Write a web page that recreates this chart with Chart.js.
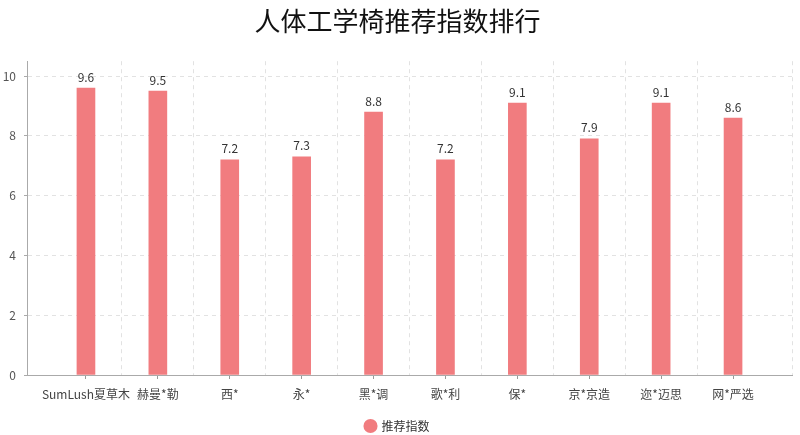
<!DOCTYPE html>
<html>
<head>
<meta charset="utf-8">
<script src="https://cdn.jsdelivr.net/npm/chart.js@4/dist/chart.umd.min.js"></script>
<style>
html,body{margin:0;padding:0;background:#fff;}
#wrap{width:800px;height:435px;position:relative;}
</style>
</head>
<body>
<div id="wrap"><canvas id="c"></canvas></div>
<script>
const titleText = '人体工学椅推荐指数排行';
const seriesName = '推荐指数';
const categories = ['SumLush夏草木','赫曼*勒','西*','永*','黑*调','歌*利','保*','京*京造','迩*迈思','网*严选'];
const values = [9.6, 9.5, 7.2, 7.3, 8.8, 7.2, 9.1, 7.9, 9.1, 8.6];
const yTicks = [0, 2, 4, 6, 8, 10];

const FONT = '"Noto Sans CJK SC", "Noto Sans", sans-serif';
const BAR = 'rgb(241,124,127)';
const X_MIN = -0.82, X_MAX = 9.82;

const labelPlugin = {
  id: 'valueLabels',
  afterDatasetsDraw(chart) {
    const ctx = chart.ctx;
    const meta = chart.getDatasetMeta(0);
    ctx.save();
    ctx.font = '12px ' + FONT;
    ctx.fillStyle = '#333';
    ctx.textAlign = 'center';
    ctx.textBaseline = 'bottom';
    meta.data.forEach((bar, i) => {
      ctx.fillText(String(values[i].toFixed(1)), bar.x, bar.y - 5);
    });
    ctx.restore();
  }
};

const isInt = v => Math.abs(v - Math.round(v)) < 1e-6;

new Chart(document.getElementById('c'), {
  type: 'bar',
  data: {
    datasets: [{
      label: seriesName,
      data: values.map((v, i) => ({x: i, y: v})),
      backgroundColor: BAR,
      borderWidth: 0,
      barThickness: 18
    }]
  },
  options: {
    responsive: true,
    maintainAspectRatio: false,
    animation: false,
    layout: {padding: {left: 0, right: 5, top: 0, bottom: -7}},
    plugins: {
      title: {
        display: true,
        text: titleText,
        color: '#111',
        font: {family: FONT, size: 26, weight: 'normal'},
        padding: {top: 6, bottom: 24}
      },
      legend: {
        display: true,
        position: 'bottom',
        labels: {
          usePointStyle: true,
          pointStyle: 'circle',
          boxWidth: 10,
          boxHeight: 10,
          color: '#333',
          font: {family: FONT, size: 12},
          padding: 4
        }
      },
      tooltip: {enabled: false}
    },
    scales: {
      x: {
        type: 'linear',
        offset: false,
        min: X_MIN,
        max: X_MAX,
        afterBuildTicks(scale) {
          const t = [];
          for (let i = 0; i < categories.length; i++) {
            t.push({value: i});
            if (i < categories.length - 1) t.push({value: i + 0.5});
          }
          t.push({value: X_MAX});
          scale.ticks = t;
        },
        afterFit(scale) { scale.height = 41; },
        ticks: {
          autoSkip: false,
          maxRotation: 0,
          color: '#444',
          padding: 8,
          font: {family: FONT, size: 12},
          callback(v) { return isInt(v) ? categories[Math.round(v)] : ''; }
        },
        grid: {
          display: true,
          offset: false,
          drawOnChartArea: true,
          drawTicks: true,
          tickLength: 4,
          color: ctx => (ctx.tick && !isInt(ctx.tick.value)) ? '#e2e2e2' : 'rgba(0,0,0,0)',
          tickColor: ctx => (ctx.tick && isInt(ctx.tick.value)) ? '#999' : 'rgba(0,0,0,0)',
          lineWidth: 1
        },
        border: {display: true, color: '#aaa', width: 1, dash: [4, 4]}
      },
      y: {
        min: 0,
        max: 10.5,
        afterBuildTicks(scale) { scale.ticks = yTicks.map(v => ({value: v})); },
        afterFit(scale) { scale.width = 27; },
        ticks: {
          color: '#555',
          padding: 8,
          font: {family: FONT, size: 12}
        },
        grid: {
          color: '#e2e2e2',
          tickColor: '#aaa',
          tickLength: 3,
          drawTicks: true
        },
        border: {display: true, color: '#aaa', width: 1, dash: [4, 4]}
      }
    }
  },
  plugins: [labelPlugin]
});
</script>
</body>
</html>
